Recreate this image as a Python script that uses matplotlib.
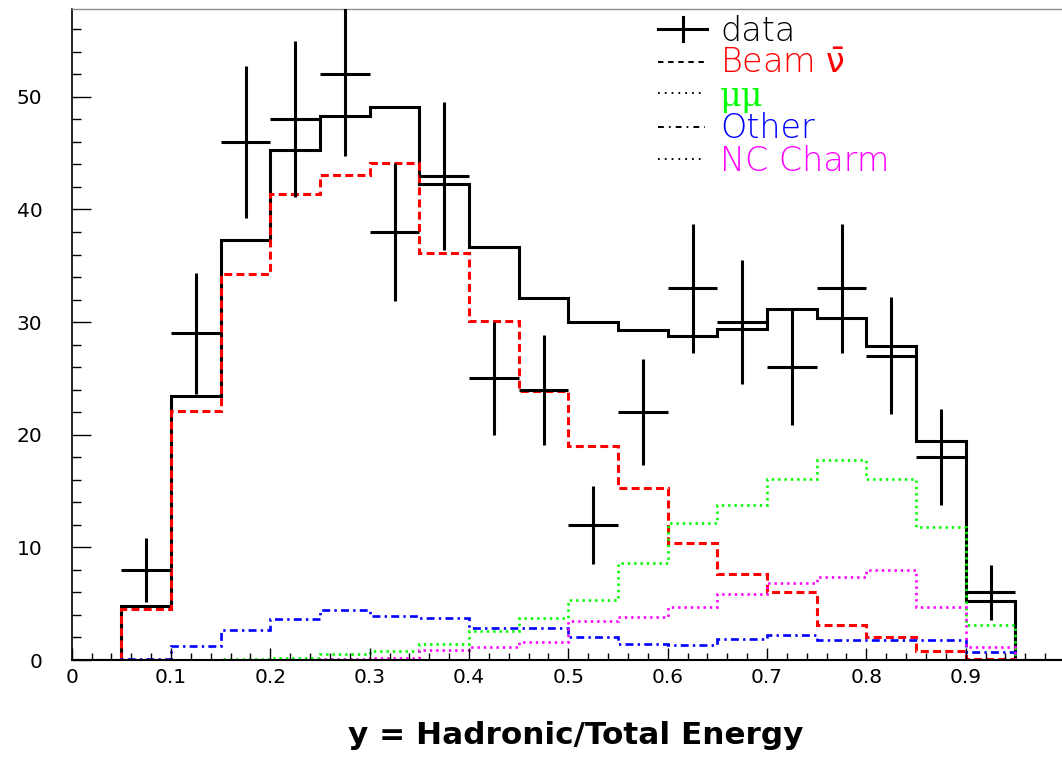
import numpy as np
import matplotlib
matplotlib.use("Agg")
import matplotlib.pyplot as plt
from matplotlib.lines import Line2D
from matplotlib.ticker import MultipleLocator

# y = E_had / E_total, 20 bins of width 0.05
bin_edges = np.round(np.arange(21) * 0.05, 2)

total_mc = [0, 4.8, 23.4, 37.3, 45.3, 48.3, 49.1, 42.3, 36.7, 32.1,
            30.0, 29.3, 28.8, 29.4, 31.2, 30.4, 27.9, 19.4, 5.2, 0]
beam_nubar = [0, 4.55, 22.1, 34.3, 41.4, 43.1, 44.1, 36.1, 30.1, 23.9,
              19.0, 15.3, 10.4, 7.6, 6.0, 3.1, 2.0, 0.8, 0.1, 0]
dimuon = [0, 0, 0, 0.05, 0.15, 0.5, 0.8, 1.45, 2.55, 3.7,
          5.3, 8.6, 12.2, 13.8, 16.05, 17.8, 16.05, 11.8, 3.1, 0]
other_bg = [0, 0.1, 1.25, 2.7, 3.65, 4.4, 3.9, 3.75, 2.8, 2.85,
            2.05, 1.45, 1.35, 1.9, 2.25, 1.8, 1.8, 1.8, 0.75, 0]
nc_charm = [0, 0, 0, 0, 0, 0.05, 0.2, 0.85, 1.15, 1.6,
            3.5, 3.8, 4.7, 5.9, 6.85, 7.4, 7.95, 4.75, 1.15, 0]

data_y = [0.075, 0.125, 0.175, 0.225, 0.275, 0.325, 0.375, 0.425, 0.475,
          0.525, 0.575, 0.625, 0.675, 0.725, 0.775, 0.825, 0.875, 0.925]
data_counts = [8, 29, 46, 48, 52, 38, 43, 25, 24,
               12, 22, 33, 30, 26, 33, 27, 18, 6]

x_tick_values = [0, 0.1, 0.2, 0.3, 0.4, 0.5, 0.6, 0.7, 0.8, 0.9]
x_tick_labels = ['0', '0.1', '0.2', '0.3', '0.4', '0.5', '0.6', '0.7', '0.8', '0.9']
y_tick_values = [0, 10, 20, 30, 40, 50]

legend_labels = ['data', r'Beam $\bar{\mathrm{\nu}}$', 'μμ', 'Other', 'NC Charm']
legend_colors = ['black', '#ff0000', '#00ff00', '#0000ff', '#ff00ff']

W, H = 1062, 759
fig = plt.figure(figsize=(W / 100, H / 100), dpi=100)
ax = fig.add_axes([71.7 / W, 1 - 660 / H, (1065 - 71.7) / W, (660 - 9) / H])
ax.set_xlim(0, 1.0)
ax.set_ylim(0, 57.8)

lw = 2.2
ax.stairs(total_mc, bin_edges, baseline=None, color='black', lw=lw)
ax.stairs(beam_nubar, bin_edges, baseline=None, color='#ff0000', lw=lw,
          linestyle=(0, (2.6, 1.4)))
ax.stairs(dimuon, bin_edges, baseline=None, color='#00ff00', lw=1.9,
          linestyle=(0, (0.9, 1.5)))
ax.stairs(other_bg, bin_edges, baseline=None, color='#0000ff', lw=1.9,
          linestyle=(0, (3.0, 1.6, 0.9, 1.6)))
ax.stairs(nc_charm, bin_edges, baseline=None, color='#ff00ff', lw=1.9,
          linestyle=(0, (0.9, 1.5)))

ax.errorbar(data_y, data_counts, xerr=0.025, yerr=np.sqrt(data_counts),
            fmt='none', ecolor='black', elinewidth=lw, capsize=0, zorder=5)

# axes frame
ax.spines['right'].set_visible(False)
ax.spines['top'].set_color('#8c8c8c')
ax.spines['top'].set_linewidth(1.0)
ax.spines['left'].set_linewidth(1.2)
ax.spines['bottom'].set_linewidth(1.5)

ax.set_xticks(x_tick_values)
ax.set_xticklabels(x_tick_labels)
ax.xaxis.set_minor_locator(MultipleLocator(0.02))
ax.set_yticks(y_tick_values)
ax.yaxis.set_minor_locator(MultipleLocator(2))
ax.tick_params(axis='both', which='both', direction='in', color='black',
               width=1.0, top=False, right=False, labelsize=14.5)
ax.tick_params(axis='x', which='major', length=8.5, pad=6)
ax.tick_params(axis='x', which='minor', length=5)
ax.tick_params(axis='y', which='major', length=13.5, pad=21)
ax.tick_params(axis='y', which='minor', length=6.7)


def fx(px):
    return px / W


def fy(py):
    return 1 - py / H


# key box in the upper right
text_x = 720
baselines = [41, 73, 106, 138, 171]
sample_y = [29, 62, 93, 127, 159]
x0, x1 = 658, 705

fig.add_artist(Line2D([fx(x0), fx(x1 + 2)], [fy(sample_y[0])] * 2,
                      color='black', lw=2.2))
fig.add_artist(Line2D([fx(683)] * 2, [fy(17), fy(41)], color='black', lw=2.2))
sample_styles = [None, (0, (2.8, 2.4)), (0, (0.9, 2.6)),
                 (0, (3.0, 2.6, 0.9, 2.6)), (0, (0.9, 2.6))]
for i in range(1, 5):
    fig.add_artist(Line2D([fx(x0), fx(x1)], [fy(sample_y[i])] * 2,
                          color='black', lw=1.4, linestyle=sample_styles[i]))

for i, (label, col) in enumerate(zip(legend_labels, legend_colors)):
    fam = ['DejaVu Serif'] if label == 'μμ' else ['DejaVu Sans']
    fig.text(fx(text_x), fy(baselines[i]), label, color=col, fontsize=24,
             family=fam, fontweight=200, ha='left', va='baseline')

fig.text(fx(576), fy(744), 'y = Hadronic/Total Energy', fontsize=22.4,
         fontweight='bold', family=['DejaVu Sans'], ha='center', va='baseline')

fig.savefig('out.png', dpi=100)
